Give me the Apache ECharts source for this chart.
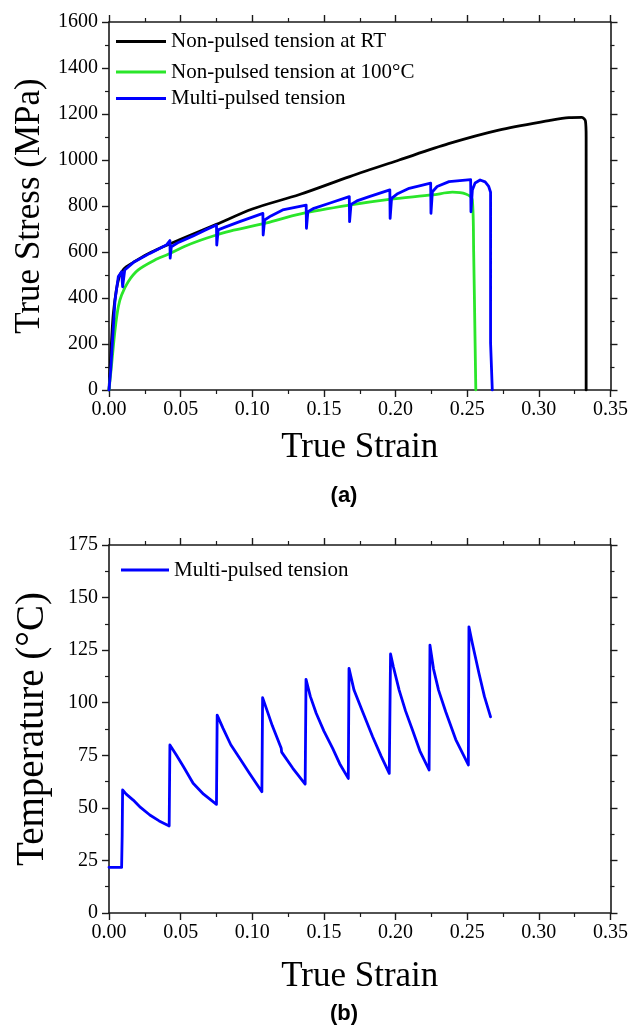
<!DOCTYPE html>
<html>
<head>
<meta charset="utf-8">
<script src="https://cdn.jsdelivr.net/npm/echarts@6/dist/echarts.min.js"></script>
<style>
html,body{margin:0;padding:0;background:#fff;}
#chart{width:631px;height:1033px;}
</style>
</head>
<body>
<div id="chart"></div>
<script>
// ---- Data ----
const seriesNames = ['Non-pulsed tension at RT', 'Non-pulsed tension at 100°C', 'Multi-pulsed tension'];

// (a) true stress vs true strain: [strain, MPa]
const stressRT = [[0,0],[0.001,120],[0.002,240],[0.003,330],[0.005,430],[0.007,490],[0.009,515],[0.012,535],[0.017,555],[0.025,585],[0.035,615],[0.05,655],[0.075,720],[0.1,787],[0.133,850],[0.168,928],[0.2025,1000],[0.237,1071],[0.272,1130],[0.307,1171],[0.321,1184],[0.330,1185],[0.3325,1170],[0.333,1100],[0.333,0]];

const stress100C = [[0,0],[0.0019,116],[0.0042,261],[0.0065,362],[0.0088,413],[0.0134,471],[0.0204,522],[0.032,565],[0.0413,590],[0.053,625],[0.0633,650],[0.075,674],[0.087,695],[0.11,727],[0.133,765],[0.1677,804],[0.1956,829],[0.2257,848],[0.2397,860],[0.249,852],[0.2536,826],[0.2545,600],[0.2555,204],[0.256,0]];

const stressPulsed = [[0,0],[0.0012,87],[0.0042,391],[0.0065,493],[0.0088,514],[0.0095,449],[0.011,522],[0.0169,554],[0.0285,594],[0.04,630],[0.0425,650],[0.0427,573],[0.0435,623],[0.048,640],[0.0587,670],[0.067,695],[0.075,717],[0.0752,630],[0.0762,696],[0.081,708],[0.0912,732],[0.1074,768],[0.1076,674],[0.1086,739],[0.113,757],[0.1212,783],[0.1376,804],[0.1378,703],[0.1388,775],[0.143,790],[0.1538,812],[0.1677,841],[0.1679,732],[0.1689,807],[0.173,822],[0.1816,841],[0.196,870],[0.1962,746],[0.1972,833],[0.201,852],[0.2095,877],[0.2245,899],[0.2247,768],[0.2257,862],[0.229,885],[0.2373,906],[0.2524,915],[0.2526,775],[0.2536,870],[0.2555,900],[0.259,913],[0.2625,905],[0.265,885],[0.2663,860],[0.2663,205],[0.2675,0]];

// (b) temperature vs true strain: [strain, °C]
const tempPulsed = [[0,21.7],[0.0088,21.7],[0.0092,37],[0.0095,58.5],[0.012,56.5],[0.0169,53.7],[0.022,50.2],[0.0285,46.6],[0.035,43.8],[0.042,41.4],[0.0425,79.9],[0.047,75.1],[0.052,69.5],[0.0587,61.7],[0.066,56.5],[0.075,51.7],[0.0755,94.1],[0.0796,87.8],[0.085,80],[0.0912,73.6],[0.098,66.5],[0.1067,57.7],[0.1072,102.4],[0.1098,97.3],[0.114,89],[0.1202,78.3],[0.1205,76.5],[0.1283,68.8],[0.1295,68],[0.1369,61.3],[0.1375,111.1],[0.1405,103],[0.1446,95],[0.150,86.5],[0.1561,78.3],[0.161,71],[0.167,64],[0.1675,116.3],[0.171,106],[0.177,95.7],[0.184,83.8],[0.190,74.5],[0.1956,66.4],[0.1965,123.2],[0.1985,117],[0.2025,106],[0.207,96],[0.2118,87],[0.217,77],[0.2234,68],[0.224,127.4],[0.2265,116],[0.230,106],[0.235,95.7],[0.242,82.5],[0.2508,70.4],[0.2512,136.1],[0.2536,128.2],[0.2582,114],[0.262,103],[0.2663,93.3]];

const strainRange = {min:0, max:0.35, interval:0.05};
const stressRange = {min:0, max:1600, interval:200};
const tempRange = {min:0, max:175, interval:25};

// ---- Styling ----
const SERIF = '"Liberation Serif","Times New Roman",serif';
const AX = '#1a1a1a';
const colors = {rt:'#000000', hot:'#2ae62a', pulsed:'#0000ff'};
const LABEL = {show:true, color:'#000', fontFamily:SERIF, fontSize:20, margin:11};

function axisBase(extra){
  return Object.assign({
    type:'value',
    splitLine:{show:false},
    axisLine:{show:true, onZero:false, lineStyle:{color:AX, width:1.6}},
    axisTick:{show:true, inside:false, length:7, lineStyle:{color:AX, width:1.4}},
    minorTick:{show:true, splitNumber:2, length:4, lineStyle:{color:AX, width:1.2}},
    axisLabel:Object.assign({formatter:function(v){return String(v);}}, LABEL),
    nameTextStyle:{color:'#000', fontFamily:SERIF, fontSize:35}
  }, extra);
}
function xFmt(v){ return v.toFixed(2); }
const xLabel = Object.assign({}, LABEL, {formatter:xFmt, margin:10});

const option = {
  animation:false,
  backgroundColor:'#fff',
  grid:[
    {left:109, top:22, width:503, height:368},
    {left:109, top:545, width:503, height:368}
  ],
  xAxis:[
    axisBase(Object.assign({gridIndex:0, position:'bottom', name:'True Strain', nameLocation:'middle', nameGap:40, axisLabel:xLabel}, strainRange)),
    axisBase(Object.assign({gridIndex:0, position:'top', axisLabel:{show:false}}, strainRange)),
    axisBase(Object.assign({gridIndex:1, position:'bottom', name:'True Strain', nameLocation:'middle', nameGap:46, axisLabel:xLabel}, strainRange)),
    axisBase(Object.assign({gridIndex:1, position:'top', axisLabel:{show:false}}, strainRange))
  ],
  yAxis:[
    axisBase(Object.assign({gridIndex:0, position:'left', name:'True Stress (MPa)', nameLocation:'middle', nameGap:56}, stressRange)),
    axisBase(Object.assign({gridIndex:0, position:'right', axisLabel:{show:false}}, stressRange)),
    axisBase(Object.assign({gridIndex:1, position:'left', name:'Temperature (°C)', nameLocation:'middle', nameGap:57,
      nameTextStyle:{color:'#000', fontFamily:SERIF, fontSize:39}}, tempRange)),
    axisBase(Object.assign({gridIndex:1, position:'right', axisLabel:{show:false}}, tempRange))
  ],
  legend:[],
  series:[]
};

const legendText = {fontFamily:SERIF, fontSize:21, color:'#000'};
function legendAt(name, top, width){
  return {data:[name], left:116, top:top, padding:0, icon:'rect', itemWidth:width, itemHeight:3, itemGap:5, textStyle:legendText};
}
option.legend = [
  legendAt(seriesNames[0], 31, 50),
  legendAt(seriesNames[1], 61.5, 50),
  legendAt(seriesNames[2], 88, 50),
  Object.assign(legendAt('Multi-pulsed tension ', 559.5, 48), {left:121})
];

function lineSeries(name, xi, yi, data, color, z, smooth){
  return {type:'line', name:name, xAxisIndex:xi, yAxisIndex:yi, data:data, showSymbol:false, symbol:'none',
    smooth:smooth,
    lineStyle:{color:color, width:2.8, join:'round', cap:'round'}, itemStyle:{color:color}, z:z};
}
option.series = [
  lineSeries(seriesNames[0], 0, 0, stressRT, colors.rt, 2, 0.3),
  lineSeries(seriesNames[1], 0, 0, stress100C, colors.hot, 3, 0.3),
  lineSeries(seriesNames[2], 0, 0, stressPulsed, colors.pulsed, 4, false),
  lineSeries('Multi-pulsed tension ', 2, 2, tempPulsed, colors.pulsed, 4, false)
];

option.graphic = [
  {type:'text', x:344, y:496, style:{text:'(a)', font:'bold 22px "Liberation Sans", Arial, sans-serif', fill:'#000', textAlign:'center', textVerticalAlign:'middle'}},
  {type:'text', x:344, y:1014, style:{text:'(b)', font:'bold 22px "Liberation Sans", Arial, sans-serif', fill:'#000', textAlign:'center', textVerticalAlign:'middle'}}
];

const chart = echarts.init(document.getElementById('chart'), null, {renderer:'canvas'});
chart.setOption(option);
</script>
</body>
</html>
